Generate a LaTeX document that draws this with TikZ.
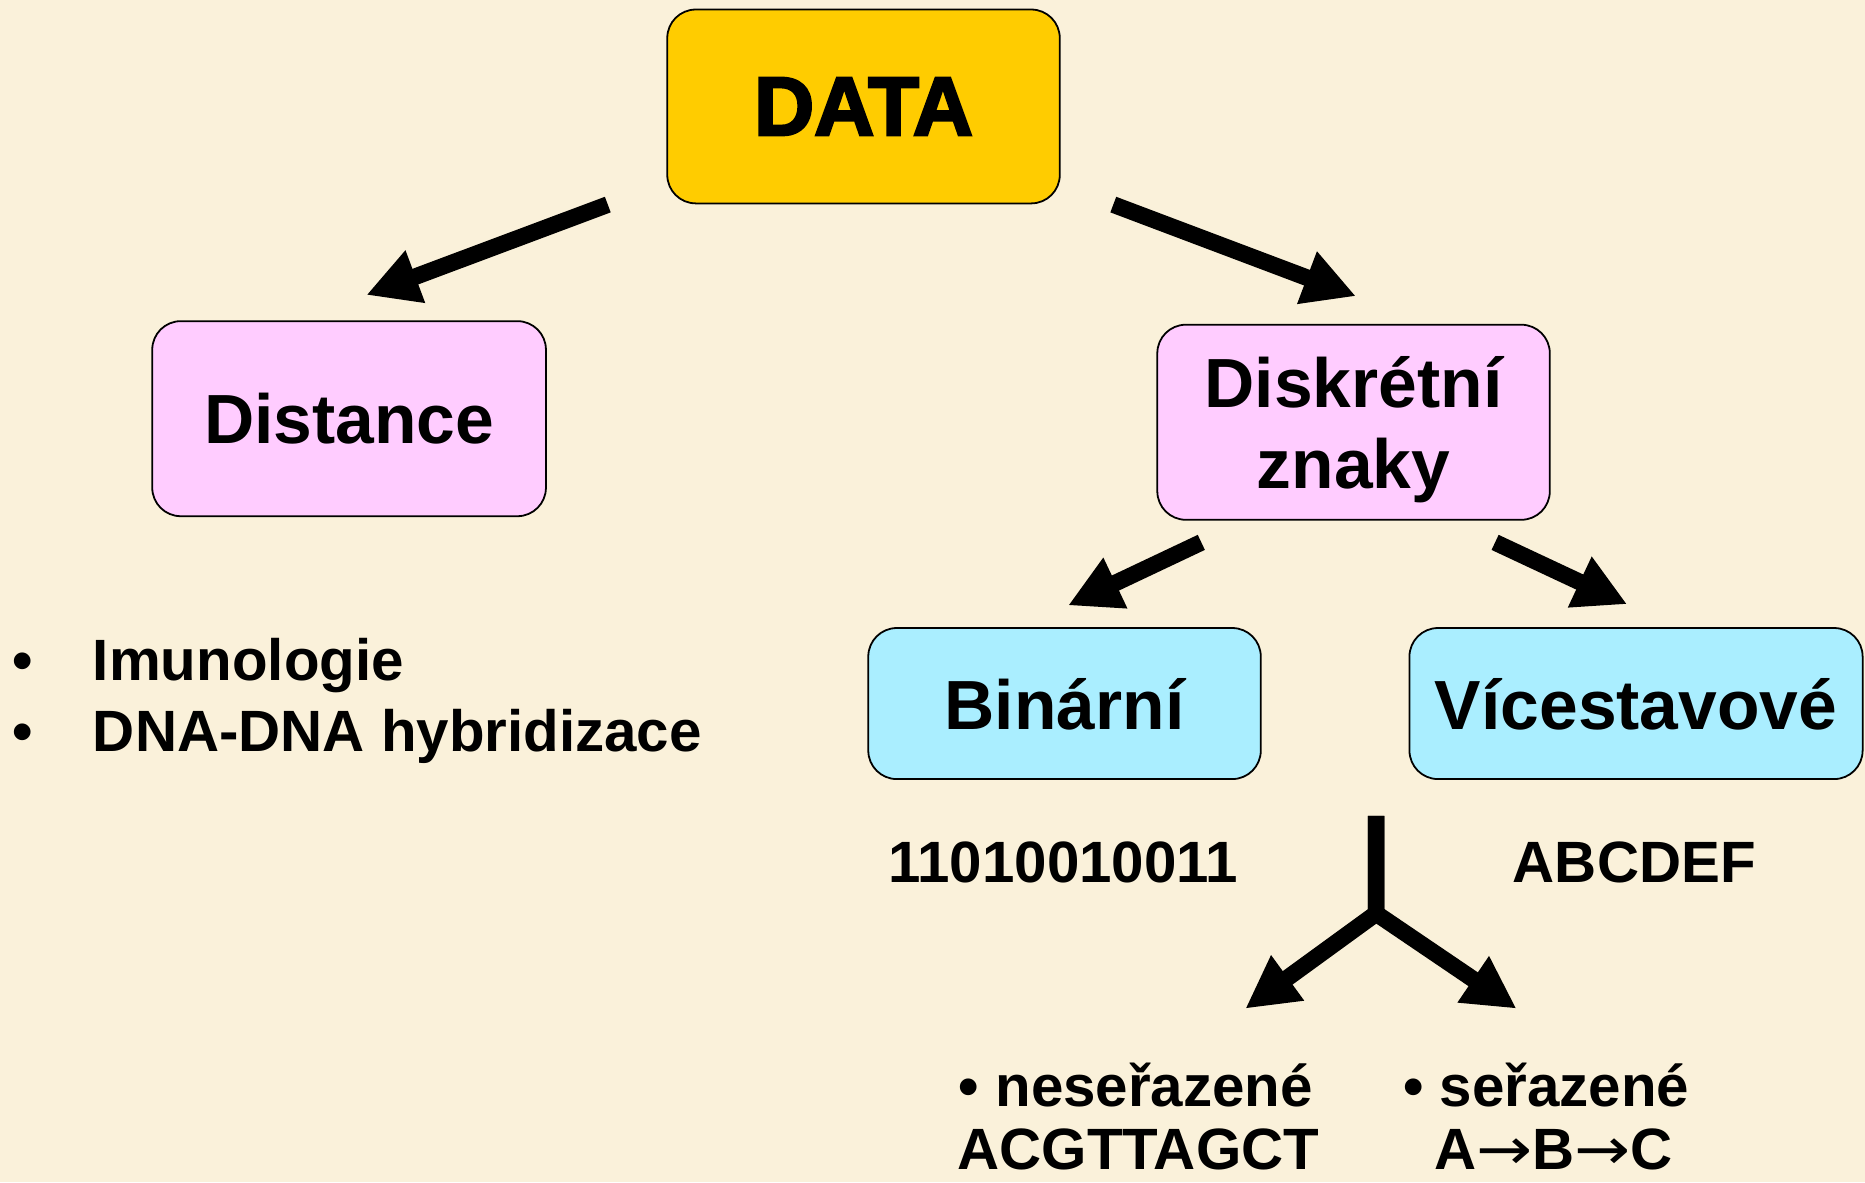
\documentclass[tikz,border=0pt]{standalone}
\usepackage{fontspec}
\setmainfont{Liberation Sans}
\newfontfamily\heavyfont[FakeBold=3]{Liberation Sans Bold}
\newfontfamily\arrowfont{DejaVu Sans}
\usetikzlibrary{arrows.meta}

\definecolor{parchment}{RGB}{250,241,218}
\definecolor{datagold}{RGB}{255,204,0}
\definecolor{boxpink}{RGB}{255,204,255}
\definecolor{boxcyan}{RGB}{170,238,255}

\begin{document}
\begin{tikzpicture}[x=1pt, y=-1pt,
  box/.style={draw=black, line width=1.5pt, rounded corners=24pt, align=center,
    inner sep=0pt, text depth=0pt, font=\fontsize{58.5}{68}\selectfont\bfseries},
  txt/.style={inner sep=0pt, font=\fontsize{49}{55}\selectfont\bfseries},
  bigarrow/.style={line width=14pt, -{Triangle[length=44pt, width=44pt]}}]

\fill[parchment] (0,0) rectangle (1568,994);
\useasboundingbox (0,0) rectangle (1568,994);

% boxes
\node[box, fill=datagold, minimum width=330pt, minimum height=163pt,
  font=\fontsize{70}{70}\heavyfont] (data) at (726,89.5) {DATA};
\node[box, fill=boxpink, minimum width=331pt, minimum height=164pt] (dist) at (293.5,352) {Distance};
\node[box, fill=boxpink, minimum width=330pt, minimum height=164pt] (disk) at (1138,355) {Diskrétní\\znaky};
\node[box, fill=boxcyan, minimum width=330pt, minimum height=127pt] (bin) at (895,591.5) {Binární};
\node[box, fill=boxcyan, minimum width=381pt, minimum height=127pt] (vice) at (1375.5,591.5) {Vícestavové};

% arrows
\coordinate (dataL) at (511,172);
\coordinate (distTop) at (308,248);
\coordinate (dataR) at (936,172);
\coordinate (diskTop) at (1140,249);
\coordinate (diskL) at (1010,456);
\coordinate (binTop) at (898,509);
\coordinate (diskR) at (1257,456);
\coordinate (viceTop) at (1368,508);
\draw[bigarrow] (dataL) -- (distTop);
\draw[bigarrow] (dataR) -- (diskTop);
\draw[bigarrow] (diskL) -- (binTop);
\draw[bigarrow] (diskR) -- (viceTop);

% distance examples
\node[txt, anchor=base west] (imun) at (10.5,572) {\makebox[67.5pt][l]{•}Imunologie};
\node[txt, anchor=base west] (hybr) at (10.5,632) {\makebox[67.5pt][l]{•}DNA-DNA hybridizace};

% character examples
\node[txt, anchor=base] (binEx) at (894,742) {11010010011};
\node[txt, anchor=base] (viceEx) at (1374,742) {ABCDEF};

\coordinate (yTop) at (1157,686);
\coordinate (yFork) at (1157,768);
\coordinate (unsortedTip) at (1047,848);
\coordinate (sortedTip) at (1275,848);
\draw[bigarrow] (yTop) -- (yFork) -- (unsortedTip);
\draw[bigarrow] (yTop) -- (yFork) -- (sortedTip);

\node[txt, anchor=base] (unsorted) at (955,930) {• neseřazené};
\node[txt, anchor=base] (unsortedEx) at (957,983) {ACGTTAGCT};
\node[txt, anchor=base] (sorted) at (1300,930) {• seřazené};
\node[txt, anchor=base] (sortedEx) at (1306,983) {A\scalebox{1.15}[1]{\arrowfont\mdseries →}B\scalebox{1.15}[1]{\arrowfont\mdseries →}C};

\end{tikzpicture}
\end{document}
